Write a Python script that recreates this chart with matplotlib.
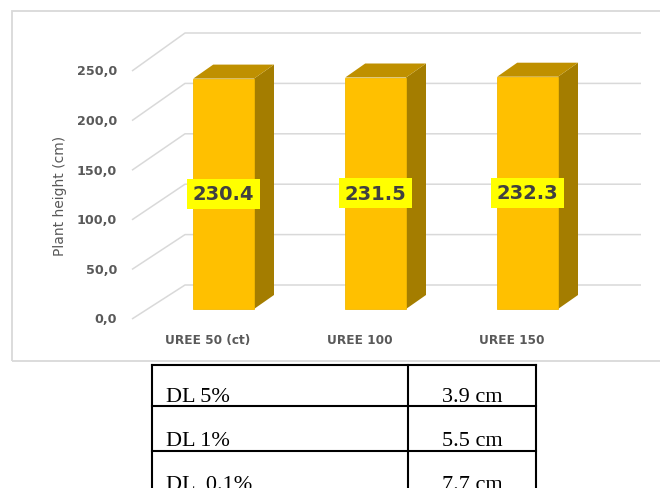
import matplotlib.pyplot as plt
from matplotlib.patches import Polygon, Rectangle
from matplotlib.lines import Line2D

# data
categories = ["UREE 50 (ct)", "UREE 100", "UREE 150"]
heights = [230.4, 231.5, 232.3]
y_ticks = [0, 50, 100, 150, 200, 250]
y_tick_labels = ["0,0", "50,0", "100,0", "150,0", "200,0", "250,0"]
dl_names = ["DL 5%", "DL 1%", "DL  0.1%"]
dl_values = ["3.9 cm", "5.5 cm", "7.7 cm"]

W, H = 660, 489
fig = plt.figure(figsize=(W / 100, H / 100), dpi=100)
fig.patch.set_facecolor("white")
ax = fig.add_axes([0, 0, 1, 1])
ax.axis("off")

# 3d-ish geometry (data units: x per category, y in cm)
px_x = 152.0                       # pixels per category
ax.set_xlim(-0.5 - 147.6 / px_x, -0.5 + (W - 147.6) / px_x)
ax.set_ylim(-(H - 310), 310)
BAR_W = 0.4
DX, DY = 20 / px_x, 14            # bar depth
BACK_X, BACK_Y, BACK_S = 37.4 / px_x, 24, 252 / 250     # back wall
FRONT_X, FRONT_Y, FRONT_S = -15.6 / px_x, -10, 248 / 250  # front edge

grid_c = "#D9D9D9"
front_c, top_c, side_c = "#FFC000", "#BF9000", "#A47D00"
txt_c = "#595959"

# back wall gridlines
x0 = -0.5
x_end = len(categories) - 0.5
for v in y_ticks:
    yf = v * FRONT_S + FRONT_Y
    yb = v * BACK_S + BACK_Y
    ax.plot([x0 + FRONT_X, x0 + BACK_X, x_end + BACK_X], [yf, yb, yb],
            color=grid_c, lw=1.1, zorder=1, solid_capstyle="butt")

for v, lab in zip(y_ticks, y_tick_labels):
    ax.text(x0 + FRONT_X - 15 / px_x, v * FRONT_S + FRONT_Y, lab,
            ha="right", va="center", fontsize=9.2, fontweight="bold", color=txt_c)

# bars
for i, h in enumerate(heights):
    l, r = i - BAR_W / 2, i + BAR_W / 2
    ax.add_patch(Polygon([(r, 0), (r + DX, DY), (r + DX, h + DY), (r, h)],
                         closed=True, fc=side_c, ec="none", zorder=3))
    ax.add_patch(Polygon([(l, h), (r, h), (r + DX, h + DY), (l + DX, h + DY)],
                         closed=True, fc=top_c, ec="none", zorder=3))
    ax.add_patch(Rectangle((l, 0), BAR_W, h, fc=front_c, ec="#F2B800",
                           lw=0.6, zorder=4))
    ax.text(i, h / 2, f"{h:.1f}", ha="center", va="center", fontsize=14,
            fontweight="bold", color="#404040", zorder=6,
            bbox=dict(boxstyle="square,pad=0.28", fc="#FFFF00", ec="none"))
    ax.text(i + FRONT_X, -31, categories[i], ha="center", va="center",
            fontsize=8.7, fontweight="bold", color=txt_c)

fig.text(60 / W, 1 - 196 / H, "Plant height (cm)", rotation=90,
         ha="center", va="center", fontsize=10, color=txt_c)


# frame and table in pixel positions
def fx(px):
    return px / W


def fy(py):
    return 1 - py / H


fig.add_artist(Rectangle((fx(12), fy(362)), fx(700) - fx(12), fy(12) - fy(362),
                         transform=fig.transFigure, fill=False, ec="#D9D9D9", lw=1.3))

tx = [152, 408, 536]
ty = [366, 407, 452]
for x in tx:
    fig.add_artist(Line2D([fx(x), fx(x)], [fy(ty[0]), fy(500)],
                          transform=fig.transFigure, color="black", lw=1.5))
for y in ty:
    fig.add_artist(Line2D([fx(tx[0]), fx(tx[-1])], [fy(y), fy(y)],
                          transform=fig.transFigure, color="black", lw=1.5))

base = [402, 446, 490]
for name, val, b in zip(dl_names, dl_values, base):
    fig.text(fx(166), fy(b), name, ha="left", va="baseline",
             fontsize=16, family="Liberation Serif", color="black")
    fig.text(fx(472), fy(b), val, ha="center", va="baseline",
             fontsize=16, family="Liberation Serif", color="black")

fig.savefig("out.png", dpi=100)
